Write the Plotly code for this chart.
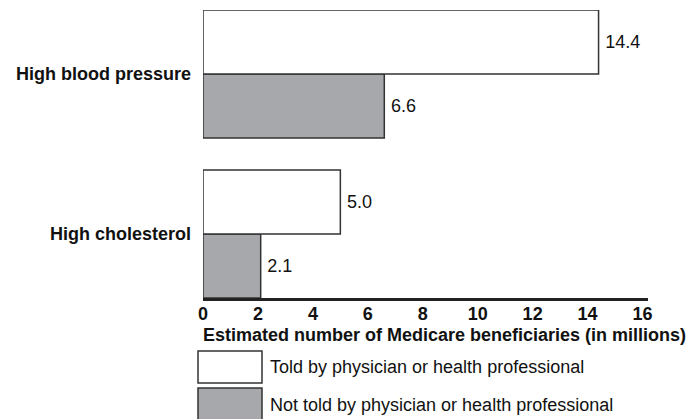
import plotly.graph_objects as go

categories = ["High cholesterol", "High blood pressure"]
told = [5.0, 14.4]
not_told = [2.1, 6.6]
series_names = ["Not told by physician or health professional",
                "Told by physician or health professional"]
x_ticks = [0, 2, 4, 6, 8, 10, 12, 14, 16]

W, H = 690, 419
L, R, T, B = 203, 42, 10, 121
FS = 18

fig = go.Figure()
fig.add_trace(go.Bar(
    y=categories, x=not_told, orientation="h", name=series_names[0],
    marker=dict(color="#a7a8ab", line=dict(color="#333333", width=1.5)),
    text=[f"\u2009{v:.1f}" for v in not_told], textposition="outside",
    textfont=dict(family="Liberation Sans", size=FS, color="#111111"),
    cliponaxis=False,
))
fig.add_trace(go.Bar(
    y=categories, x=told, orientation="h", name=series_names[1],
    marker=dict(color="#ffffff", line=dict(color="#333333", width=1.5)),
    text=[f"\u2009{v:.1f}" for v in told], textposition="outside",
    textfont=dict(family="Liberation Sans", size=FS, color="#111111"),
    cliponaxis=False,
))

fig.update_layout(
    width=W, height=H,
    margin=dict(l=L, r=R, t=T, b=B),
    paper_bgcolor="white", plot_bgcolor="white",
    barmode="group", bargap=0.2, bargroupgap=0,
    showlegend=False,
    font=dict(family="Liberation Sans", color="#111111"),
)
fig.update_xaxes(
    range=[0, 16.2], tickvals=x_ticks, ticktext=[str(v) for v in x_ticks],
    showgrid=False, zeroline=False,
    showline=True, linecolor="#222222", linewidth=3,
    ticks="", tickfont=dict(family="Liberation Sans", size=FS, color="#111111", weight="bold"),
    ticklabelstandoff=-3,
)
fig.update_yaxes(
    type="category", categoryorder="array", categoryarray=categories,
    range=[-0.4, 1.4], showgrid=False, zeroline=False, showline=False,
    ticks="", ticklabelstandoff=11,
    tickfont=dict(family="Liberation Sans", size=FS, color="#111111", weight="bold"),
)

pw = W - L - R
ph = H - T - B
def px(x):
    return (x - L) / pw

def py(y):
    return (H - B - y) / ph

fig.add_annotation(
    xref="paper", yref="paper", x=px(444), y=py(335),
    text="<b>Estimated number of Medicare beneficiaries (in millions)</b>",
    showarrow=False, xanchor="center", yanchor="middle",
    font=dict(family="Liberation Sans", size=FS, color="#111111"),
)

legend_rows = [
    (351, 383, "#ffffff", series_names[1]),
    (388, 421, "#a7a8ab", series_names[0]),
]
for y0, y1, col, name in legend_rows:
    fig.add_shape(type="rect", xref="paper", yref="paper",
                  x0=px(198), x1=px(262), y0=py(y1), y1=py(y0),
                  fillcolor=col, line=dict(color="#333333", width=1.5))
    fig.add_annotation(
        xref="paper", yref="paper", x=px(268), y=py((y0 + y1) / 2),
        text=name, showarrow=False, xanchor="left", yanchor="middle",
        font=dict(family="Liberation Sans", size=FS, color="#111111"),
    )

fig.write_html("out.html", config={"displayModeBar": False},
               post_script="document.body.style.margin='0';document.body.style.overflow='hidden';")
